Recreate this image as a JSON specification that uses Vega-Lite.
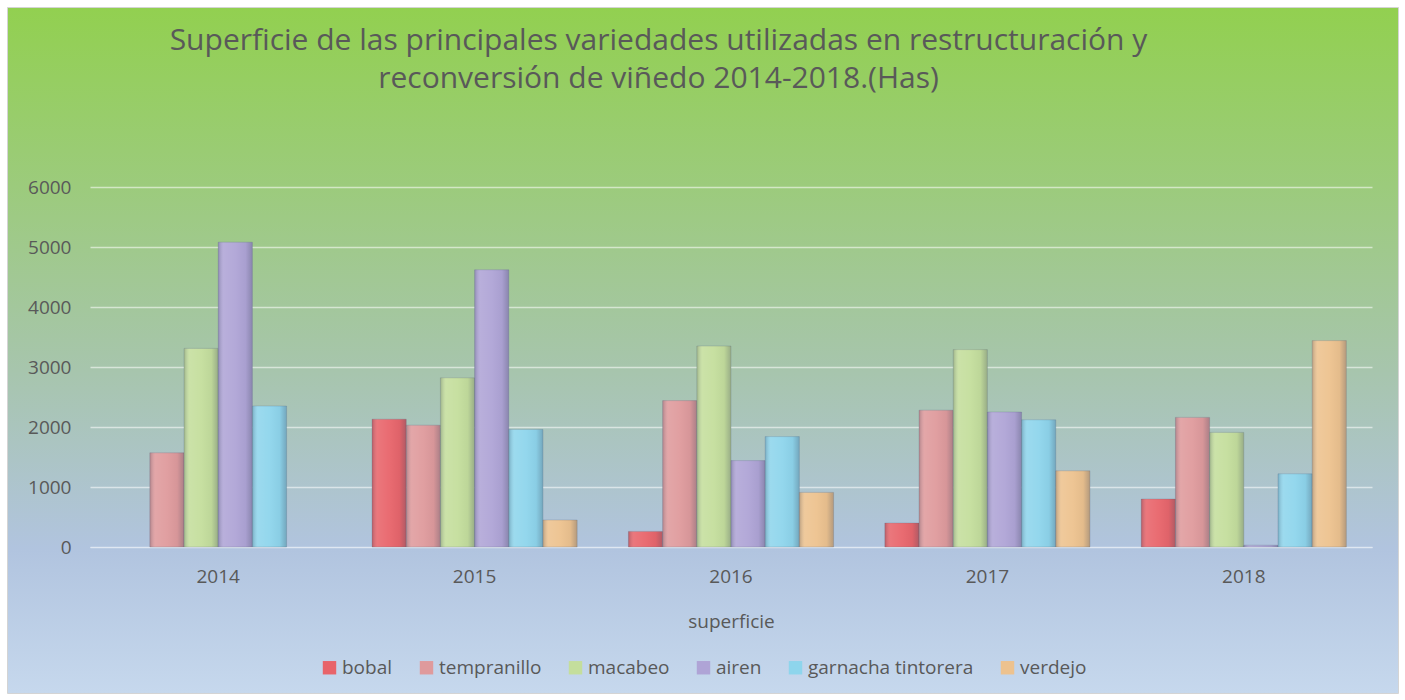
{
  "$schema": "https://vega.github.io/schema/vega-lite/v6.json",
  "width": 1391,
  "height": 686,
  "padding": {"left": 7, "top": 7, "right": 7, "bottom": 7},
  "autosize": {"type": "none"},
  "background": "#ffffff",
  "view": {
    "fill": {
      "gradient": "linear", "x1": 0, "y1": 0, "x2": 0, "y2": 1,
      "stops": [
        {"offset": 0, "color": "#92d050"},
        {"offset": 0.26, "color": "#9ccb7c"},
        {"offset": 0.53, "color": "#a7c5ad"},
        {"offset": 0.79, "color": "#b1c4df"},
        {"offset": 1, "color": "#c6d8ed"}
      ]
    },
    "stroke": "#d4d4d4"
  },
  "title": {
    "text": ["Superficie de las principales variedades utilizadas en restructuración y", "reconversión de viñedo 2014-2018.(Has)"],
    "font": "Open Sans",
    "fontSize": 30,
    "fontWeight": "normal",
    "color": "#595959",
    "anchor": "middle",
    "frame": "group",
    "baseline": "top",
    "lineHeight": 38,
    "offset": -87,
    "dx": -44
  },
  "data": {
    "values": [
      {"year": "2014", "variety": "tempranillo", "value": 1570},
      {"year": "2014", "variety": "macabeo", "value": 3310},
      {"year": "2014", "variety": "airen", "value": 5080},
      {"year": "2014", "variety": "garnacha tintorera", "value": 2350},
      {"year": "2015", "variety": "bobal", "value": 2130},
      {"year": "2015", "variety": "tempranillo", "value": 2030},
      {"year": "2015", "variety": "macabeo", "value": 2820},
      {"year": "2015", "variety": "airen", "value": 4620},
      {"year": "2015", "variety": "garnacha tintorera", "value": 1960},
      {"year": "2015", "variety": "verdejo", "value": 450},
      {"year": "2016", "variety": "bobal", "value": 260},
      {"year": "2016", "variety": "tempranillo", "value": 2440},
      {"year": "2016", "variety": "macabeo", "value": 3350},
      {"year": "2016", "variety": "airen", "value": 1440},
      {"year": "2016", "variety": "garnacha tintorera", "value": 1840},
      {"year": "2016", "variety": "verdejo", "value": 910},
      {"year": "2017", "variety": "bobal", "value": 400},
      {"year": "2017", "variety": "tempranillo", "value": 2280},
      {"year": "2017", "variety": "macabeo", "value": 3290},
      {"year": "2017", "variety": "airen", "value": 2250},
      {"year": "2017", "variety": "garnacha tintorera", "value": 2120},
      {"year": "2017", "variety": "verdejo", "value": 1270},
      {"year": "2018", "variety": "bobal", "value": 800},
      {"year": "2018", "variety": "tempranillo", "value": 2160},
      {"year": "2018", "variety": "macabeo", "value": 1910},
      {"year": "2018", "variety": "airen", "value": 30},
      {"year": "2018", "variety": "garnacha tintorera", "value": 1220},
      {"year": "2018", "variety": "verdejo", "value": 3440}
    ]
  },
  "encoding": {
    "x": {
      "field": "year",
      "type": "nominal",
      "scale": {"range": [83, 1365], "paddingInner": 0.2, "paddingOuter": 0.1},
      "axis": {
        "orient": "bottom",
        "offset": -146,
        "labelAngle": 0,
        "ticks": false,
        "domain": true,
        "domainColor": "#dfe7f2",
        "labelFont": "Open Sans",
        "labelFontSize": 19,
        "labelColor": "#595959",
        "labelPadding": 20,
        "title": "superficie",
        "titleFont": "Open Sans",
        "titleFontSize": 19,
        "titleFontWeight": "normal",
        "titleColor": "#595959",
        "titlePadding": 26
      }
    },
    "xOffset": {
      "field": "variety",
      "sort": ["bobal", "tempranillo", "macabeo", "airen", "garnacha tintorera", "verdejo"],
      "scale": {"domain": ["bobal", "tempranillo", "macabeo", "airen", "garnacha tintorera", "verdejo"], "paddingInner": 0, "paddingOuter": 0}
    },
    "y": {
      "field": "value",
      "type": "quantitative",
      "scale": {"domain": [0, 6000], "range": [540, 180], "nice": false},
      "axis": {
        "offset": -83,
        "values": [0, 1000, 2000, 3000, 4000, 5000, 6000],
        "format": "d",
        "domain": false,
        "ticks": false,
        "grid": true,
        "gridColor": "#ffffff",
        "gridOpacity": 0.55,
        "gridWidth": 1.5,
        "labelFont": "Open Sans",
        "labelFontSize": 19,
        "labelColor": "#595959",
        "labelPadding": 19,
        "title": null
      }
    }
  },
  "layer": [
    {
      "mark": {"type": "bar", "stroke": "#5d6d85", "strokeOpacity": 0.25, "strokeWidth": 1},
      "encoding": {
        "color": {
          "field": "variety",
          "type": "nominal",
          "sort": ["bobal", "tempranillo", "macabeo", "airen", "garnacha tintorera", "verdejo"],
          "scale": {
            "domain": ["bobal", "tempranillo", "macabeo", "airen", "garnacha tintorera", "verdejo"],
            "range": ["#e8646a", "#df9a9c", "#c4de9c", "#afa4d6", "#8ed5ec", "#edc28e"]
          },
          "legend": {
            "orient": "none",
            "direction": "horizontal",
            "legendX": 313,
            "legendY": 651,
            "title": null,
            "symbolType": "square",
            "symbolSize": 180,
            "symbolStrokeWidth": 0,
            "labelFont": "Open Sans",
            "labelFontSize": 19,
            "labelColor": "#595959",
            "labelOffset": 3,
            "labelLimit": 400,
            "columnPadding": 24
          }
        }
      }
    },
    {
      "mark": {
        "type": "bar",
        "fill": {
          "gradient": "linear", "x1": 0, "y1": 0, "x2": 1, "y2": 0,
          "stops": [
            {"offset": 0, "color": "rgba(60,70,90,0.28)"},
            {"offset": 0.16, "color": "rgba(255,255,255,0.12)"},
            {"offset": 0.5, "color": "rgba(255,255,255,0.05)"},
            {"offset": 0.8, "color": "rgba(60,70,90,0.05)"},
            {"offset": 1, "color": "rgba(60,70,90,0.32)"}
          ]
        },
        "stroke": null
      }
    }
  ]
}
